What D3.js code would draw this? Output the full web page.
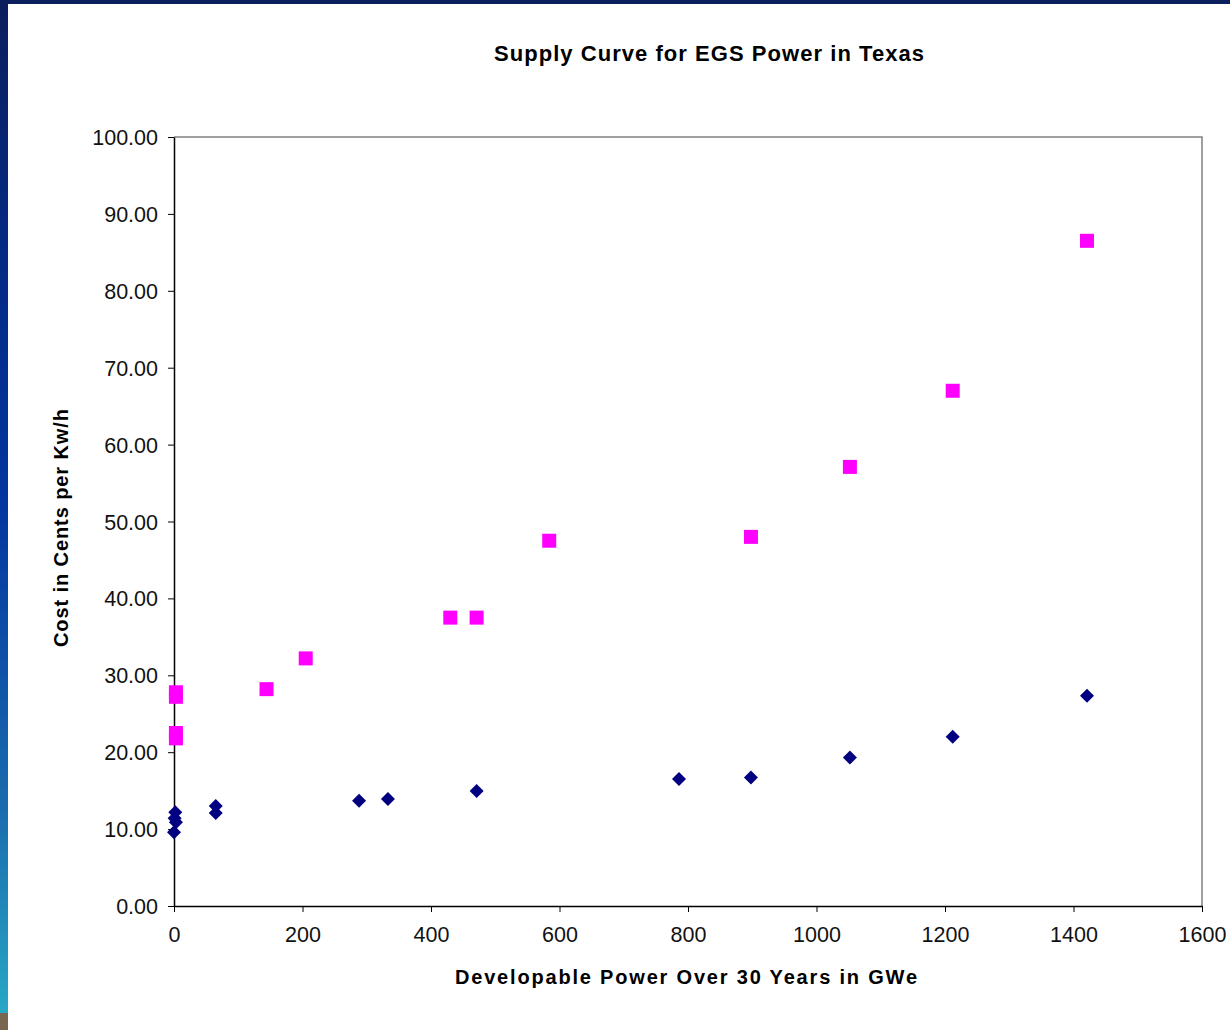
<!DOCTYPE html>
<html>
<head>
<meta charset="utf-8">
<script src="https://cdn.jsdelivr.net/npm/d3@7"></script>
<style>
  body { margin: 0; background: #fff; }
  svg { display: block; font-family: "Liberation Sans", Arial, sans-serif; }
</style>
</head>
<body>
<div id="chart"></div>
<script>
// diamonds (navy) - developable power (GWe) vs cost (cents/kWh)
var lowX = [2, 1, 3, 0, 65, 65, 288, 333, 471, 786, 898, 1052, 1212, 1421];
var lowY = [12.2, 11.4, 10.9, 9.6, 13.0, 12.1, 13.7, 13.9, 14.95, 16.5, 16.7, 19.3, 22.0, 27.35];

// squares (magenta)
var highX = [3, 3, 3, 3, 144, 205, 430, 471, 584, 898, 1052, 1212, 1421];
var highY = [27.8, 27.2, 22.5, 21.8, 28.2, 32.2, 37.5, 37.5, 47.5, 48.0, 57.1, 67.0, 86.5];

var xTicks = [0, 200, 400, 600, 800, 1000, 1200, 1400, 1600];
var yTicks = [0, 10, 20, 30, 40, 50, 60, 70, 80, 90, 100];

var chartTitle = "Supply Curve for EGS Power in Texas";
var xTitle = "Developable Power Over 30 Years in GWe";
var yTitle = "Cost in Cents per Kw/h";

var W = 1230, H = 1030;
var plot = { left: 174, right: 1202, top: 137, bottom: 906 };

var svg = d3.select("#chart").append("svg")
    .attr("width", W)
    .attr("height", H);

// slide background: navy top bar and gradient strip on the left
var defs = svg.append("defs");
var grad = defs.append("linearGradient")
    .attr("id", "sideGrad")
    .attr("x1", 0).attr("y1", 0).attr("x2", 0).attr("y2", 1);
grad.append("stop").attr("offset", "0%").attr("stop-color", "#0b1f5c");
grad.append("stop").attr("offset", "25%").attr("stop-color", "#032a84");
grad.append("stop").attr("offset", "50%").attr("stop-color", "#0336a0");
grad.append("stop").attr("offset", "80%").attr("stop-color", "#1a6cae");
grad.append("stop").attr("offset", "100%").attr("stop-color", "#28a8c4");

svg.append("rect").attr("x", 0).attr("y", 0).attr("width", W).attr("height", H).attr("fill", "#fff");
svg.append("rect").attr("x", 0).attr("y", 0).attr("width", W).attr("height", 4).attr("fill", "#0b1f5c");
svg.append("rect").attr("x", 0).attr("y", 0).attr("width", 8).attr("height", 1013).attr("fill", "url(#sideGrad)");
svg.append("rect").attr("x", 0).attr("y", 1013).attr("width", 8).attr("height", H - 1013).attr("fill", "#786650");

var x = d3.scaleLinear().domain([0, 1600]).range([plot.left, plot.right]);
var y = d3.scaleLinear().domain([0, 100]).range([plot.bottom, plot.top]);

// frame: top/right gray, left/bottom black
svg.append("path")
    .attr("d", "M" + plot.left + "," + plot.top + "H" + plot.right + "V" + plot.bottom)
    .attr("fill", "none")
    .attr("stroke", "#808080")
    .attr("stroke-width", 1.5);

var yAxis = svg.append("g")
    .attr("transform", "translate(" + plot.left + ",0)")
    .call(d3.axisLeft(y).tickValues(yTicks).tickFormat(d3.format(".2f")).tickSize(6).tickSizeOuter(0).tickPadding(10));

var xAxis = svg.append("g")
    .attr("transform", "translate(0," + plot.bottom + ")")
    .call(d3.axisBottom(x).tickValues(xTicks).tickFormat(d3.format("d")).tickSize(6).tickSizeOuter(0).tickPadding(15));

[xAxis, yAxis].forEach(function (g) {
    g.select(".domain").attr("stroke", "#000").attr("stroke-width", 1.5);
    g.selectAll(".tick line").attr("stroke", "#000").attr("stroke-width", 1);
    g.selectAll(".tick text")
        .attr("fill", "#111")
        .style("font-size", "21.5px")
        .style("font-family", "'Liberation Sans', Arial, sans-serif");
});
yAxis.selectAll(".tick text").attr("dy", "0.35em");
xAxis.selectAll(".tick text").attr("dy", "0.71em");

// titles
svg.append("text")
    .attr("x", 709).attr("y", 61)
    .attr("text-anchor", "middle")
    .attr("textLength", 430)
    .attr("lengthAdjust", "spacing")
    .style("font-size", "22px")
    .style("font-weight", "bold")
    .text(chartTitle);

svg.append("text")
    .attr("x", 686).attr("y", 984)
    .attr("text-anchor", "middle")
    .attr("textLength", 462)
    .attr("lengthAdjust", "spacing")
    .style("font-size", "20px")
    .style("font-weight", "bold")
    .text(xTitle);

svg.append("text")
    .attr("transform", "translate(68,528) rotate(-90)")
    .attr("text-anchor", "middle")
    .attr("textLength", 238)
    .attr("lengthAdjust", "spacing")
    .style("font-size", "20px")
    .style("font-weight", "bold")
    .text(yTitle);

// points
var lowPts = lowX.map(function (d, i) { return { x: d, y: lowY[i] }; });
var highPts = highX.map(function (d, i) { return { x: d, y: highY[i] }; });

svg.append("g").selectAll("path")
    .data(highPts)
    .enter().append("path")
    .attr("d", d3.symbol().type(d3.symbolSquare).size(196))
    .attr("transform", function (d) { return "translate(" + x(d.x) + "," + y(d.y) + ")"; })
    .attr("fill", "#ff00ff");

svg.append("g").selectAll("path")
    .data(lowPts)
    .enter().append("path")
    .attr("d", d3.symbol().type(d3.symbolSquare).size(98))
    .attr("transform", function (d) { return "translate(" + x(d.x) + "," + y(d.y) + ") rotate(45)"; })
    .attr("fill", "#000080");
</script>
</body>
</html>
